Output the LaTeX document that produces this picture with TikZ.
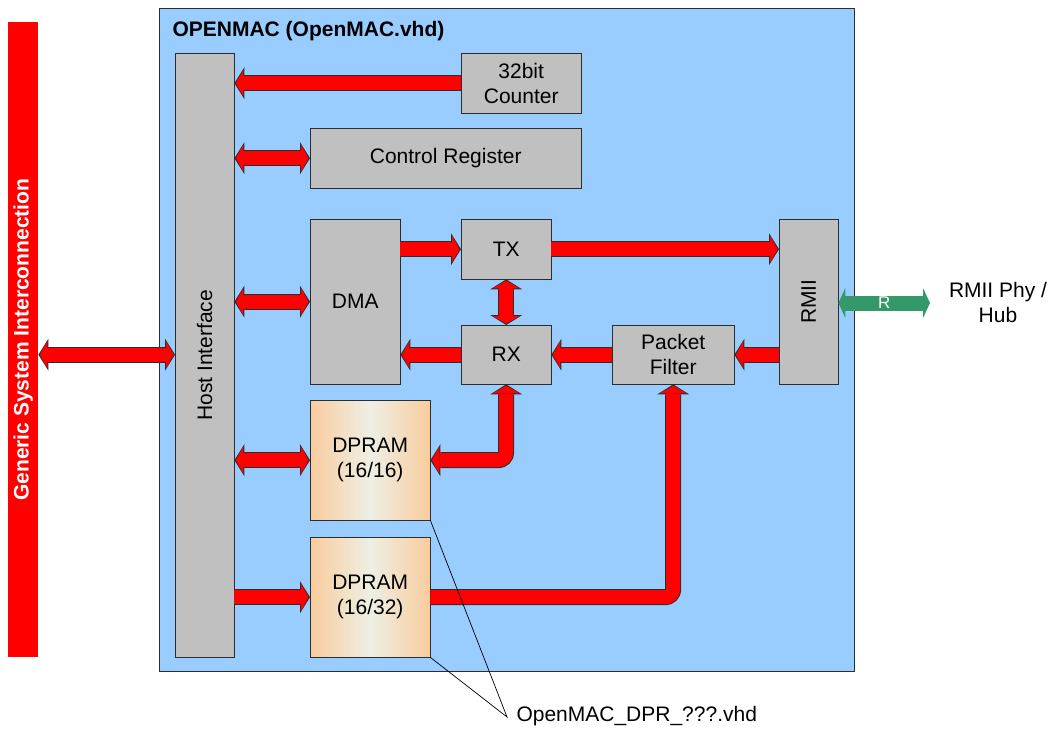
\documentclass[tikz,border=0pt]{standalone}
\usepackage{fontspec}
\setmainfont{Liberation Sans}
\usepackage{graphicx}
\usetikzlibrary{%
    arrows.meta,%
    calc%
}
\definecolor{macblue}{RGB}{153,204,255}
\definecolor{blkgray}{RGB}{192,192,192}
\definecolor{dprpeach}{RGB}{249,204,157}
\definecolor{dprlight}{RGB}{238,239,228}
\definecolor{phygreen}{RGB}{52,153,104}
\definecolor{edgegray}{RGB}{45,45,45}

\tikzset{%
    redtip/.tip={Triangle[length=7.5pt,width=27pt,line width=0pt]},%
    blacktip/.tip={Triangle[length=10pt,width=32pt,line width=0pt]},%
    greentip/.tip={Triangle[length=7pt,width=30pt,line width=0pt]},%
    blk/.style={draw=edgegray, fill=blkgray, inner sep=0pt, anchor=north west, align=center},%
    dpr/.style={blk, left color=dprpeach, right color=dprpeach, middle color=dprlight},%
    fatto/.style={draw=red, line width=14pt, -redtip, shorten >=1.4pt,
        preaction={draw=edgegray, line width=16pt, -blacktip, shorten >=0pt}},%
    fatboth/.style={draw=red, line width=14pt, redtip-redtip, shorten >=1.4pt, shorten <=1.4pt,
        preaction={draw=edgegray, line width=16pt, blacktip-blacktip, shorten >=0pt, shorten <=0pt}}%
}

\begin{document}
\begin{tikzpicture}[x=1pt, y=-1pt, font=\fontsize{21}{25}\selectfont]
    \useasboundingbox (0,0) rectangle (1055,733);

    % OpenMAC frame and system bus
    \node[draw=edgegray, fill=macblue, minimum width=695pt, minimum height=663pt, anchor=north west, inner sep=0pt] (openmac) at (159,8) {};
    \node[anchor=west, font=\fontsize{21}{25}\selectfont\bfseries] (title) at (169,31) {OPENMAC (OpenMAC.vhd)};
    \node[fill=red, minimum width=30pt, minimum height=635pt, anchor=north west, inner sep=0pt, text=white, font=\fontsize{21}{25}\selectfont\bfseries] (gsi) at (8,22) {\rotatebox{90}{Generic System Interconnection}};

    % Blocks
    \node[blk, minimum width=59pt, minimum height=604pt] (hostif) at (175,53) {\rotatebox{90}{Host Interface}};
    \node[blk, minimum width=120pt, minimum height=60pt] (counter) at (461,53) {32bit\\Counter};
    \node[blk, minimum width=271pt, minimum height=60pt] (ctrl) at (310,128) {Control Register};
    \node[blk, minimum width=90pt, minimum height=165pt] (dma) at (310,219) {DMA};
    \node[blk, minimum width=90pt, minimum height=60pt] (tx) at (461,219) {TX};
    \node[blk, minimum width=90pt, minimum height=59pt] (rx) at (461,325) {RX};
    \node[blk, minimum width=122pt, minimum height=59pt] (pf) at (612,325) {Packet\\Filter};
    \node[blk, minimum width=59pt, minimum height=165pt] (rmii) at (779,219) {\rotatebox{90}{RMII}};
    \node[dpr, minimum width=120pt, minimum height=120pt] (dpram1) at (310,400) {DPRAM\\(16/16)};
    \node[dpr, minimum width=120pt, minimum height=120pt] (dpram2) at (310,537) {DPRAM\\(16/32)};

    % Data paths
    \draw[fatboth] (gsi.east |- rx.west) -- (hostif.west |- rx.west);
    \draw[fatto] (counter.west) -- (counter.west -| hostif.east);
    \draw[fatboth] (hostif.east |- ctrl.west) -- (ctrl.west);
    \draw[fatboth] (hostif.east |- dma.west) -- (dma.west);
    \draw[fatboth] (hostif.east |- dpram1.west) -- (dpram1.west);
    \draw[fatto] (hostif.east |- dpram2.west) -- (dpram2.west);
    \draw[fatto] (dma.east |- tx.west) -- (tx.west);
    \draw[fatto] (tx.east) -- (tx.east -| rmii.west);
    \draw[fatboth] (tx.south) -- (rx.north);
    \draw[fatto] (rx.west) -- (rx.west -| dma.east);
    \draw[fatto] (pf.west) -- (rx.east);
    \draw[fatto] (rmii.west |- pf.east) -- (pf.east);
    \draw[fatboth, rounded corners=8pt] (rx.south) |- (dpram1.east);
    \draw[fatto, rounded corners=8pt] (dpram2.east) -| (pf.south);

    % PHY side
    \coordinate (phyend) at (930,303);
    \node[align=center] (phy) at (998,302) {RMII Phy /\\Hub};
    \draw[draw=phygreen, line width=15pt, greentip-greentip] (rmii.east |- phyend) -- (phyend)
        node[midway, text=white, font=\fontsize{17}{19}\selectfont] {R};

    % File label
    \coordinate (dprtip) at (507,717);
    \node[anchor=west] (dprfile) at (513,716) {OpenMAC\_DPR\_???.vhd};
    \draw[line width=0.7pt] (dpram1.south east) -- (dprtip) -- (dpram2.south east);
\end{tikzpicture}
\end{document}
